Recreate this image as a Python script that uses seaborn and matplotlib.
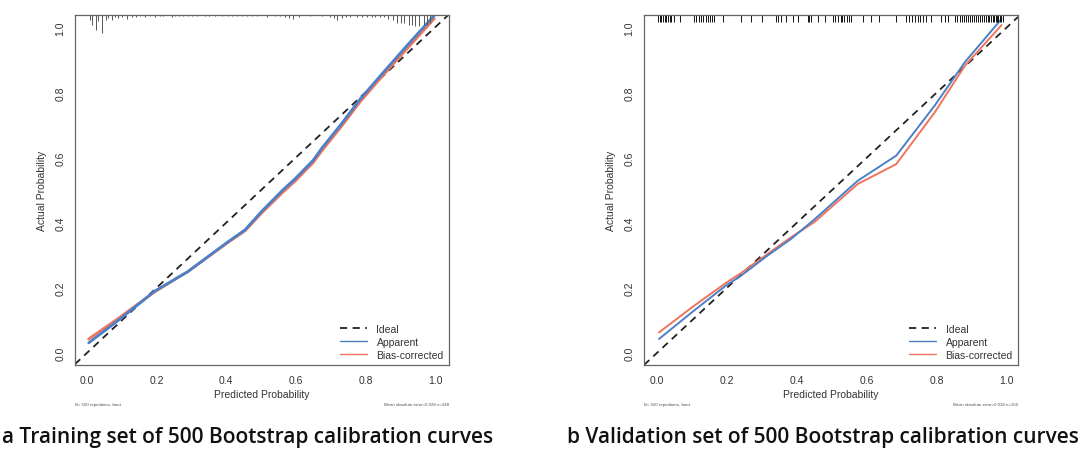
import numpy as np
import pandas as pd
import seaborn as sns
import matplotlib.pyplot as plt

# ---- data ----
# panel a: training set
train_x = [0.005, 0.09, 0.195, 0.29, 0.406, 0.454, 0.502, 0.564, 0.598, 0.65, 0.674, 0.732, 0.785, 0.85, 0.92, 0.998]
train_apparent = [0.031, 0.10, 0.19, 0.25, 0.342, 0.378, 0.435, 0.502, 0.535, 0.592, 0.628, 0.705, 0.78, 0.86, 0.945, 1.037]
train_bias = [0.043, 0.106, 0.188, 0.25, 0.340, 0.375, 0.43, 0.495, 0.528, 0.585, 0.62, 0.697, 0.772, 0.852, 0.935, 1.027]

# histogram spikes along the top of panel a (position, length)
train_rug_x = [0.009, 0.015, 0.025, 0.033, 0.042, 0.054, 0.061, 0.071, 0.081, 0.088, 0.100, 0.114,
               0.128, 0.140, 0.152, 0.167, 0.181, 0.195, 0.210, 0.219, 0.243, 0.253, 0.264, 0.277,
               0.289, 0.303, 0.315, 0.339, 0.350, 0.368, 0.387, 0.406, 0.416, 0.430, 0.444, 0.459,
               0.473, 0.488, 0.516, 0.540, 0.555, 0.569, 0.581, 0.593, 0.610, 0.641, 0.674, 0.698,
               0.710, 0.719, 0.732, 0.744, 0.756, 0.775, 0.789, 0.804, 0.818, 0.828, 0.842, 0.853,
               0.866, 0.878, 0.890, 0.902, 0.911, 0.924, 0.933, 0.943, 0.955, 0.967, 0.976, 0.986]
train_rug_h = [0.015, 0.031, 0.046, 0.020, 0.056, 0.015, 0.010, 0.015, 0.008, 0.010, 0.006, 0.012,
               0.006, 0.006, 0.005, 0.006, 0.005, 0.006, 0.005, 0.005, 0.006, 0.005, 0.005, 0.005,
               0.005, 0.005, 0.005, 0.005, 0.005, 0.005, 0.005, 0.005, 0.005, 0.005, 0.005, 0.005,
               0.005, 0.005, 0.008, 0.005, 0.005, 0.006, 0.010, 0.012, 0.006, 0.005, 0.005, 0.006,
               0.010, 0.015, 0.010, 0.006, 0.006, 0.006, 0.006, 0.006, 0.006, 0.008, 0.006, 0.008,
               0.012, 0.015, 0.026, 0.026, 0.026, 0.031, 0.031, 0.036, 0.036, 0.031, 0.031, 0.026]

# panel b: validation set
valid_x = [0.006, 0.1, 0.197, 0.24, 0.316, 0.383, 0.45, 0.574, 0.684, 0.794, 0.88, 0.985]
valid_apparent = [0.043, 0.125, 0.207, 0.237, 0.299, 0.35, 0.41, 0.529, 0.606, 0.76, 0.893, 1.026]
valid_bias = [0.063, 0.14, 0.215, 0.245, 0.304, 0.355, 0.402, 0.519, 0.58, 0.739, 0.882, 1.007]

valid_rug_x = [0.002, 0.008, 0.013, 0.018, 0.022, 0.027, 0.031, 0.036, 0.041, 0.048, 0.066,
               0.107, 0.113, 0.12, 0.127, 0.133, 0.14, 0.146, 0.152, 0.158, 0.163, 0.19,
               0.24, 0.268, 0.299, 0.34, 0.347, 0.354, 0.369, 0.388, 0.404, 0.431, 0.436, 0.44,
               0.459, 0.479, 0.502, 0.51, 0.518, 0.525, 0.53, 0.536, 0.542, 0.548, 0.555,
               0.588, 0.612, 0.636, 0.684, 0.713, 0.72, 0.728, 0.738, 0.745, 0.752, 0.76, 0.77,
               0.784, 0.813, 0.822, 0.832, 0.851, 0.858, 0.866, 0.872, 0.878, 0.884, 0.89, 0.895,
               0.9, 0.906, 0.912, 0.918, 0.924, 0.93, 0.936, 0.94, 0.945, 0.95, 0.955, 0.96,
               0.964, 0.968, 0.972, 0.976, 0.98, 0.984, 0.989]

titles = ["a Training set of 500 Bootstrap calibration curves",
          "b Validation set of 500 Bootstrap calibration curves"]
mae_notes = ["Mean absolute error=0.028 n=348", "Mean absolute error=0.038 n=150"]
boot_note = "B= 500 repetitions, boot"
ticks = [0.0, 0.2, 0.4, 0.6, 0.8, 1.0]

BLUE = "#4a80c8"
RED = "#f0735e"

sns.set_style("white")
plt.rcParams['font.family'] = ['Liberation Sans', 'DejaVu Sans']

fig = plt.figure(figsize=(10.8, 4.52), dpi=100)
ax_a = fig.add_axes([0.0694, 0.1903, 0.3463, 0.775])
ax_b = fig.add_axes([0.5963, 0.1903, 0.3463, 0.775])


def draw_panel(ax, x, app, bias, rug_x, rug_h, xlim, lw, rug_color, note):
    ylim = (-0.037, 1.039)
    df = pd.DataFrame({"x": x, "Apparent": app, "Bias-corrected": bias})
    ax.axline((0, 0), slope=1, color="#222222", lw=1.3, ls=(0, (4, 3)), label="Ideal")
    sns.lineplot(data=df, x="x", y="Bias-corrected", ax=ax, color=RED, lw=lw,
                 label="Bias-corrected", sort=False)
    sns.lineplot(data=df, x="x", y="Apparent", ax=ax, color=BLUE, lw=lw,
                 label="Apparent", sort=False)
    ax.vlines(rug_x, [ylim[1] - h for h in rug_h], ylim[1], color=rug_color, lw=0.7)
    ax.set_xlim(*xlim)
    ax.set_ylim(*ylim)
    ax.set_xticks(ticks)
    ax.set_yticks(ticks)
    ax.set_xticklabels([f"{t:.1f}" for t in ticks], fontsize=7.5, color="#333333")
    ax.set_yticklabels([f"{t:.1f}" for t in ticks], fontsize=7.5, color="#333333",
                       rotation=90, va="center")
    ax.tick_params(direction="out", length=4, width=0.8, color="#555555", pad=3)
    ax.set_xlabel("Predicted Probability", fontsize=7.5, color="#333333", labelpad=3)
    ax.set_ylabel("Actual Probability", fontsize=7.5, color="#333333", labelpad=6)
    for s in ax.spines.values():
        s.set_color("#666666")
        s.set_linewidth(0.9)
    h, l = ax.get_legend_handles_labels()
    order = [l.index("Ideal"), l.index("Apparent"), l.index("Bias-corrected")]
    leg = ax.legend([h[i] for i in order], [l[i] for i in order], loc="lower right",
                    frameon=False, fontsize=7.5, handlelength=2.6, borderaxespad=0.1,
                    labelspacing=0.3, labelcolor="#333333", handletextpad=0.9)
    for line in leg.get_lines()[1:]:
        line.set_linewidth(1.0)
    ax.text(0.0, -0.11, boot_note, transform=ax.transAxes, fontsize=3.2,
            color="#555555", ha="left", va="center")
    ax.text(1.0, -0.11, note, transform=ax.transAxes, fontsize=3.2,
            color="#555555", ha="right", va="center")


draw_panel(ax_a, train_x, train_apparent, train_bias, train_rug_x, train_rug_h,
           (-0.0345, 1.040), 2.0, "#555555", mae_notes[0])
draw_panel(ax_b, valid_x, valid_apparent, valid_bias, valid_rug_x,
           [0.021] * len(valid_rug_x), (-0.037, 1.032), 1.4, "#111111", mae_notes[1])

fig.text(0.002, 0.031, titles[0], fontsize=15.0, ha="left", va="center",
         family=['Open Sans', 'DejaVu Sans'], weight="semibold", color="#111111")
fig.text(0.525, 0.031, titles[1], fontsize=15.0, ha="left", va="center",
         family=['Open Sans', 'DejaVu Sans'], weight="semibold", color="#111111")

fig.savefig("out.png", dpi=100)
